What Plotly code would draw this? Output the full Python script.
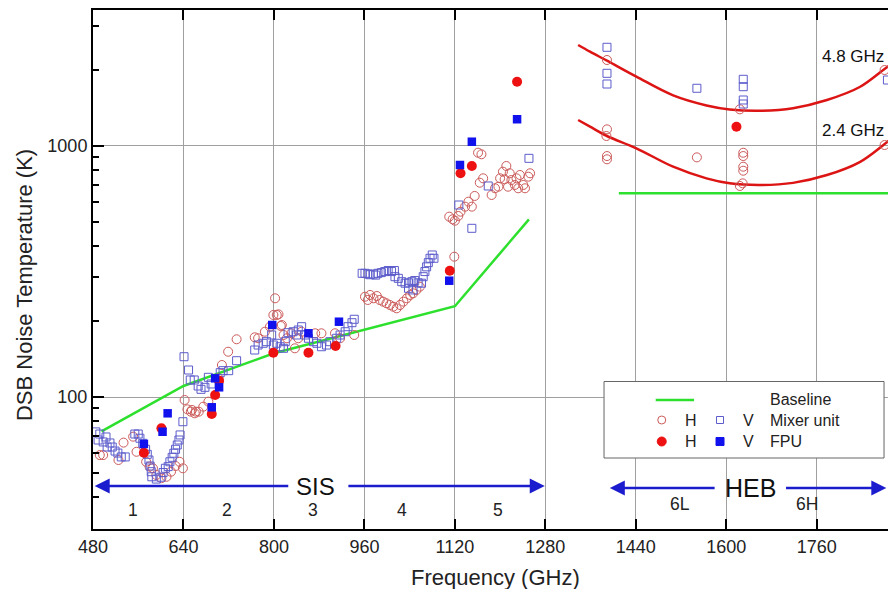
import plotly.graph_objects as go

# ---------------- data ----------------
# Baselines
base_sis_f = [495, 640, 800, 1120, 1251]
base_sis_T = [73, 110.6, 149.3, 230, 510]
base_heb_f = [1410, 1890]
base_heb_T = [648, 648]

# Fitted HEB curves
fit48_f = [1338, 1359, 1389, 1441, 1506, 1565, 1606, 1659, 1718, 1778, 1836, 1880, 1890]
fit48_T = [2526, 2375, 2187, 1889, 1591, 1451, 1399, 1382, 1415, 1525, 1718, 2028, 2100]
fit24_f = [1338, 1359, 1389, 1441, 1506, 1565, 1606, 1659, 1718, 1778, 1836, 1880, 1890]
fit24_T = [1269, 1194, 1096, 979, 827, 743, 710, 699, 713, 766, 863, 1018, 1060]

# V polarisation, mixer unit (open squares)
vmix_f = [485, 492, 489, 498, 503, 510, 505, 514, 519, 524, 530, 537,
          554, 560, 563, 568, 573, 576, 579, 581, 583, 584, 592, 600, 604, 608, 613, 616, 620, 623, 626, 629, 632, 634, 639,
          641, 649, 652, 659, 666, 671, 678, 684, 689, 705, 710, 720, 734,
          766, 772, 781, 787, 796, 799, 805, 811, 817, 820, 825, 834, 840, 843, 849, 855, 861, 870, 876, 884, 893, 899, 911, 917, 926, 931, 938, 942,
          956, 961, 966, 970, 976, 980, 984, 990, 996, 1002, 1008, 1013, 1014, 1020, 1026, 1032, 1038, 1044, 1049, 1055, 1061, 1064, 1067, 1070, 1073, 1076, 1080, 1083, 1038, 1046,
          1127, 1150, 1179, 1251,
          1389, 1389, 1389, 1548, 1630, 1630, 1630, 1630, 1885]
vmix_T = [72.6, 71.2, 67.4, 66.2, 69.3, 65.6, 63.2, 63.2, 60.9, 59.8, 57.7, 57.7,
          71.2, 71.2, 68.5, 65.4, 61.9, 59.1, 56.1, 53.1, 50.4, 48.1, 47.1, 47.9, 50.0, 52.0, 52.8, 55.2, 57.5, 59.7, 61.9, 64.4, 67.4, 70.6, 79.7,
          144.7, 128.1, 116.9, 116.9, 110.6, 107.3, 109.3, 119.8, 112.7, 125, 127.3, 127.3, 139.5,
          153.9, 161.1, 163.7, 166.1, 176.6, 161.1, 163.7, 158.6, 156.3, 166.1, 180.4, 182.0, 176.6, 184.9, 190.6, 176.6, 171.4, 166.1, 163.7, 158.6, 161.1, 166.1, 171.4, 176.6, 182.0, 190.6, 197.7, 204.0,
          311, 311, 309, 307, 309, 306, 311, 313, 316, 319, 316, 319, 301.5, 297, 288, 284, 285, 288, 291, 285, 284, 301.5, 316, 330, 343, 357, 368, 357, 271, 267,
          582, 470, 693, 893,
          2473, 1948, 1766, 1698, 1844, 1723, 1525, 1470, 1832]

# H polarisation, mixer unit (open circles)
hmix_f = [492, 498, 525, 534, 551, 557, 574, 580, 586, 592, 601, 610, 618, 626, 633, 639,
          642, 647, 655, 660, 653, 662, 667, 675, 684, 702, 708, 719, 734,
          766, 772, 784, 793, 799, 802, 805, 812, 817, 808, 814, 823, 831, 837, 843, 849, 873, 884, 908, 917, 942,
          961, 966, 970, 976, 982, 987, 993, 999, 1005, 1011, 1017, 1023, 1029, 1035, 1041, 1046, 1052, 1058, 1119,
          1110, 1116, 1120, 1126, 1130, 1138, 1144, 1150, 1155, 1164, 1170, 1161, 1167, 1185, 1191, 1197, 1200, 1205, 1208, 1211,
          1214, 1217, 1220, 1226, 1229, 1232, 1235, 1241, 1244, 1250, 1253,
          1389, 1389, 1388, 1389, 1389, 1548, 1624, 1630, 1630, 1630, 1630, 1629, 1624, 1880, 1880]
hmix_T = [58.7, 58.7, 56.1, 65.8, 69.5, 60.5, 55.2, 52.8, 52.0, 48.9, 47.5, 48.1, 50.4, 53.1, 55.2, 52.0,
          97.3, 89.3, 88.8, 86.1, 87.4, 87.4, 87.4, 91.5, 95.8, 118.7, 134.1, 151.5, 169.8,
          172.9, 171.4, 182.0, 190.6, 212.2, 247.3, 212.2, 191.8, 176.6, 213.5, 193.6, 171.4, 179.4, 156.3, 171.4, 182.0, 179.4, 179.4, 179.4, 171.4, 176.6,
          250.9, 243.5, 255.0, 247.3, 252.6, 243.5, 239.8, 236.3, 232.6, 229.0, 225.6, 232.6, 239.8, 247.3, 255.0, 258.9, 266.9, 275.1, 362.2,
          522.9, 510.5, 504.0, 526.3, 547.4, 573.2, 600.1, 573.2, 632.3, 714.2, 743.5, 940.4, 926.7, 638.0, 678.5, 688.5, 743.5, 790.0, 736.7, 832.4,
          688.5, 778.5, 731.9, 699.4, 743.5, 678.5, 766.5, 699.4, 678.5, 754.6, 778.5,
          2201, 1165, 1096, 912, 885, 901, 1400, 940, 912, 827, 797, 710, 693, 2008, 1009]

# FPU measurements (filled)
hfpu_f = [570, 601, 690, 696, 703, 799, 861, 909, 1111, 1130, 1150, 1230, 1618]
hfpu_T = [60.0, 75.0, 85.6, 101.8, 116.1, 150.1, 150.1, 159.7, 318.6, 778.5, 832.4, 1804, 1194]
vfpu_f = [570, 603, 612, 690, 696, 703, 797, 861, 915, 1110, 1129, 1150, 1230]
vfpu_T = [65.0, 72.7, 86.1, 91.0, 118.7, 109.3, 193.6, 179.4, 199.5, 290.6, 840.1, 1040, 1278]

x_ticks = [480, 640, 800, 960, 1120, 1280, 1440, 1600, 1760]
y_ticks = [100, 1000]
y_minor = [40, 50, 60, 70, 80, 90, 200, 300, 400, 500, 600, 700, 800, 900, 2000, 3000]

band_labels = ["1", "2", "3", "4", "5", "6L", "6H"]
band_pos = [551, 717, 869, 1026, 1197, 1518, 1742]

# ---------------- styles ----------------
FONT = "Liberation Sans, Arial, sans-serif"
C_OC = "#cc5a5a"
C_OS = "#5c5ccc"
C_FR = "#ee1111"
C_FB = "#1111ee"
C_GR = "#2ee02e"
C_FIT = "#dd1414"
C_AR = "#1c1ccf"

fig = go.Figure()
fig.add_trace(go.Scatter(x=base_sis_f, y=base_sis_T, mode="lines", line=dict(color=C_GR, width=2.5), showlegend=False))
fig.add_trace(go.Scatter(x=base_heb_f, y=base_heb_T, mode="lines", line=dict(color=C_GR, width=2.5), showlegend=False))
fig.add_trace(go.Scatter(x=fit48_f, y=fit48_T, mode="lines", line=dict(color=C_FIT, width=2.5, shape="spline"), showlegend=False))
fig.add_trace(go.Scatter(x=fit24_f, y=fit24_T, mode="lines", line=dict(color=C_FIT, width=2.5, shape="spline"), showlegend=False))
fig.add_trace(go.Scatter(x=hmix_f, y=hmix_T, mode="markers",
                         marker=dict(symbol="circle-open", size=9, color=C_OC, line=dict(width=1)), showlegend=False))
fig.add_trace(go.Scatter(x=vmix_f, y=vmix_T, mode="markers",
                         marker=dict(symbol="square-open", size=8, color=C_OS, line=dict(width=1)), showlegend=False))
fig.add_trace(go.Scatter(x=hfpu_f, y=hfpu_T, mode="markers",
                         marker=dict(symbol="circle", size=10, color=C_FR), showlegend=False))
fig.add_trace(go.Scatter(x=vfpu_f, y=vfpu_T, mode="markers",
                         marker=dict(symbol="square", size=8.5, color=C_FB), showlegend=False))

annotations = []
shapes = []

# SIS / HEB arrows (y in log10 units)
ya = 1.6454
yb = 1.6375
for head, tail, yy in [(483, 828, ya), (1279, 929, ya), (1394, 1582, yb), (1883, 1703, yb)]:
    annotations.append(dict(x=head, y=yy, ax=tail, ay=yy, xref="x", yref="y", axref="x", ayref="y",
                            text="", showarrow=True, arrowhead=2, arrowsize=1.2, arrowwidth=2.5,
                            arrowcolor=C_AR, standoff=0))
annotations.append(dict(x=874, y=ya, xref="x", yref="y", text="SIS", showarrow=False,
                        font=dict(family=FONT, size=24, color="#111")))
annotations.append(dict(x=1643, y=yb, xref="x", yref="y", text="HEB", showarrow=False,
                        font=dict(family=FONT, size=25, color="#111")))
for lab, pos in zip(band_labels, band_pos):
    annotations.append(dict(x=pos, y=1.5498 if lab[0] != "6" else 1.5737, xref="x", yref="y", text=lab,
                            showarrow=False, font=dict(family=FONT, size=17.5, color="#222")))
annotations.append(dict(x=1766, y=3.3546, xref="x", yref="y", text="4.8 GHz", showarrow=False,
                        xanchor="left", font=dict(family=FONT, size=17, color="#111")))
annotations.append(dict(x=1766, y=3.0637, xref="x", yref="y", text="2.4 GHz", showarrow=False,
                        xanchor="left", font=dict(family=FONT, size=17, color="#111")))

# axis titles
annotations.append(dict(x=-0.0868, y=0.470, xref="paper", yref="paper", text="DSB Noise Temperature (K)",
                        textangle=-90, showarrow=False, xanchor="center", yanchor="middle",
                        font=dict(family=FONT, size=22, color="#222")))
annotations.append(dict(x=0.5057, y=-0.0925, xref="paper", yref="paper", text="Frequency (GHz)",
                        showarrow=False, xanchor="center", yanchor="middle",
                        font=dict(family=FONT, size=22, color="#222")))

# custom legend box
shapes.append(dict(type="rect", xref="paper", yref="paper", x0=0.6428, x1=0.995, y0=0.1368, y1=0.2842,
                   line=dict(color="#666", width=1), fillcolor="white", layer="above"))
r1, r2, r3 = 0.2486, 0.2100, 0.1686
shapes.append(dict(type="line", xref="paper", yref="paper", x0=0.7078, x1=0.756, y0=r1, y1=r1,
                   line=dict(color=C_GR, width=2.5), layer="above"))
def pix_shape(kind, xa, ya_, r, fill, line):
    return dict(type=kind, xref="paper", yref="paper", xsizemode="pixel", ysizemode="pixel",
                xanchor=xa, yanchor=ya_, x0=-r, x1=r, y0=-r, y1=r,
                fillcolor=fill, line=dict(color=line, width=1), layer="above")
shapes.append(pix_shape("circle", 0.7154, r2, 4, "rgba(0,0,0,0)", C_OC))
shapes.append(pix_shape("rect", 0.7887, r2, 3.5, "rgba(0,0,0,0)", C_OS))
shapes.append(pix_shape("circle", 0.7154, r3, 4.5, C_FR, C_FR))
shapes.append(pix_shape("rect", 0.7887, r3, 4, C_FB, C_FB))
LF = dict(family=FONT, size=16, color="#222")
for txt, xx, yy, anc in [("Baseline", 0.8494, r1, "left"), ("H", 0.7518, r2, "center"), ("V", 0.8243, r2, "center"),
                         ("Mixer unit", 0.8494, r2, "left"), ("H", 0.7518, r3, "center"), ("V", 0.8243, r3, "center"),
                         ("FPU", 0.8494, r3, "left")]:
    annotations.append(dict(x=xx, y=yy, xref="paper", yref="paper", text=txt, showarrow=False,
                            xanchor=anc, yanchor="middle", font=LF))

fig.update_layout(
    width=888, height=589,
    margin=dict(l=93, r=0, t=10, b=60),
    paper_bgcolor="white", plot_bgcolor="white",
    font=dict(family=FONT, size=18, color="#222"),
    annotations=annotations, shapes=shapes,
    showlegend=False,
)
fig.update_xaxes(range=[480, 1886], tickvals=x_ticks, ticks="inside", ticklen=10, tickwidth=2,
                 tickcolor="black", showline=True, linecolor="black", linewidth=2, mirror="ticks",
                 showgrid=True, gridcolor="#a0a0a0", gridwidth=1, zeroline=False,
                 tickfont=dict(family=FONT, size=18, color="#222"))
fig.update_yaxes(type="log", range=[1.4741, 3.5418], tickvals=y_ticks, ticktext=["100", "1000"],
                 ticks="inside", ticklen=11, tickwidth=2, tickcolor="black",
                 showline=True, linecolor="black", linewidth=2, mirror=False,
                 showgrid=True, gridcolor="#a0a0a0", gridwidth=1, zeroline=False,
                 minor=dict(tickvals=y_minor, ticks="inside", ticklen=6, tickwidth=2, tickcolor="black", showgrid=False),
                 tickfont=dict(family=FONT, size=18, color="#222"))

fig.write_html("out.html")
